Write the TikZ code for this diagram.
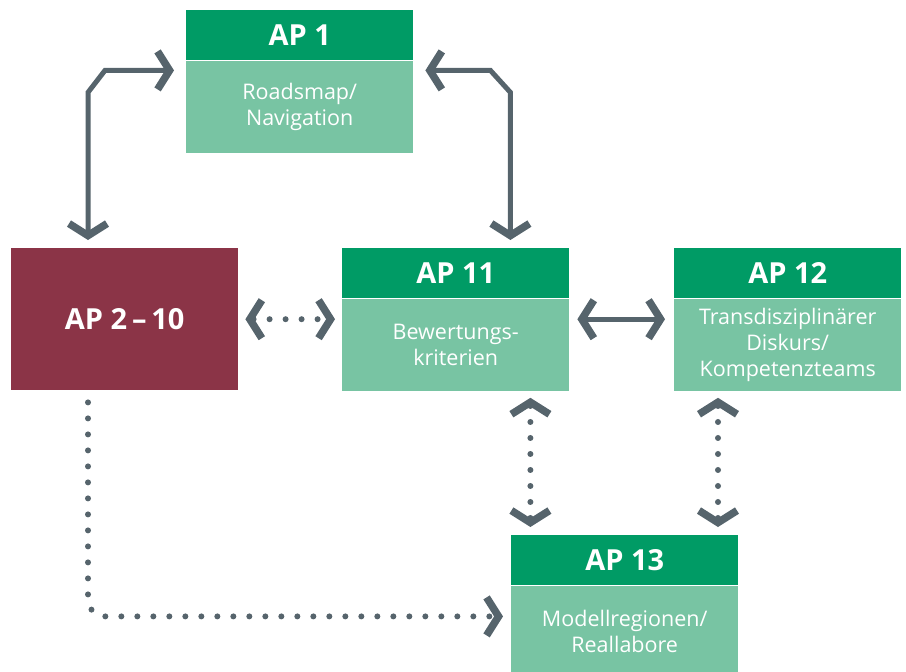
\documentclass[tikz,border=0pt]{standalone}
\usepackage{fontspec}
\setmainfont{Open Sans}
\usepackage{xcolor}
\usetikzlibrary{arrows.meta, positioning}

\definecolor{apdark}{RGB}{0,155,101}
\definecolor{aplight}{RGB}{120,196,163}
\definecolor{apred}{RGB}{139,52,71}
\definecolor{arrowgray}{RGB}{86,100,108}

\begin{document}
\begin{tikzpicture}[
    x=1pt, y=-1pt,
    kopf/.style={fill=apdark, text=white, minimum width=227pt, minimum height=50pt, inner sep=0pt, font=\bfseries\fontsize{29}{30}\selectfont},
    inhalt/.style={fill=aplight, text=white, minimum width=227pt, minimum height=92pt, inner sep=0pt, align=center, font=\fontsize{21.5}{26}\selectfont},
    pfeil/.style={draw=arrowgray, line width=5pt, line join=miter, {Straight Barb[length=12pt, width=38pt, line width=7.5pt]}-{Straight Barb[length=12pt, width=38pt, line width=7.5pt]}},
    punkte/.style={line cap=round, dash pattern=on 0pt off 16pt, line width=6pt},
    node distance=0pt,
]
\useasboundingbox (0,0) rectangle (906,672);

% Boxes
\node[kopf, anchor=north west] (ap1h) at (186,10) {AP 1};
\node[inhalt, below=of ap1h] (ap1b) {Roadsmap/\\Navigation};

\node[fill=apred, text=white, minimum width=227pt, minimum height=142pt, anchor=north west, font=\bfseries\fontsize{29}{30}\selectfont] (ap2) at (11,248) {AP 2\,--\,10};

\node[kopf, anchor=north west] (ap11h) at (342,248) {AP 11};
\node[inhalt, below=of ap11h] (ap11b) {Bewertungs-\\kriterien};

\node[kopf, anchor=north west] (ap12h) at (674,248) {AP 12};
\node[inhalt, below=of ap12h] (ap12b) {Transdisziplinärer\\Diskurs/\\Kompetenzteams};

\node[kopf, anchor=north west] (ap13h) at (511,535) {AP 13};
\node[inhalt, below=of ap13h] (ap13b) {Modellregionen/\\Reallabore};

% Hilfspunkte
\coordinate (l1) at ([yshift=-10pt]ap1b.north west);
\coordinate (r1) at ([yshift=-10pt]ap1b.north east);
\coordinate (k1) at ([xshift=77pt]ap2.north west);
\coordinate (k2) at ([xshift=-59pt]ap11h.north east);
\coordinate (k3) at ([xshift=77pt]ap2.south west);
\coordinate (k4) at ([yshift=-31pt]ap13b.north west);
\coordinate (v1) at ([xshift=-39pt]ap11b.south east);
\coordinate (v2) at ([xshift=44pt]ap12b.south west);

% Verbindungen
\draw[pfeil, shorten <=12pt, shorten >=8pt] (l1) -- ++(-81,0) -- ++(-17,22) -- (k1);
\draw[pfeil, shorten <=12pt, shorten >=8pt] (r1) -- ++(77,0) -- ++(20,22) -- (k2);
\draw[pfeil, punkte, shorten <=7pt, shorten >=7pt] (ap2.east) -- (ap2.east -| ap11b.west);
\draw[pfeil, shorten <=8pt, shorten >=9pt] (ap2.east -| ap11b.east) -- (ap2.east -| ap12b.west);
\draw[pfeil, punkte, shorten <=7pt, shorten >=8pt] (v1) -- (v1 |- ap13h.north);
\draw[pfeil, punkte, shorten <=7pt, shorten >=8pt] (v2) -- (v2 |- ap13h.north);
\draw[draw=arrowgray, punkte, rounded corners=17pt, shorten <=12pt, shorten >=8pt, -{Straight Barb[length=12pt, width=38pt, line width=7.5pt]}] (k3) |- (k4);

\end{tikzpicture}
\end{document}
